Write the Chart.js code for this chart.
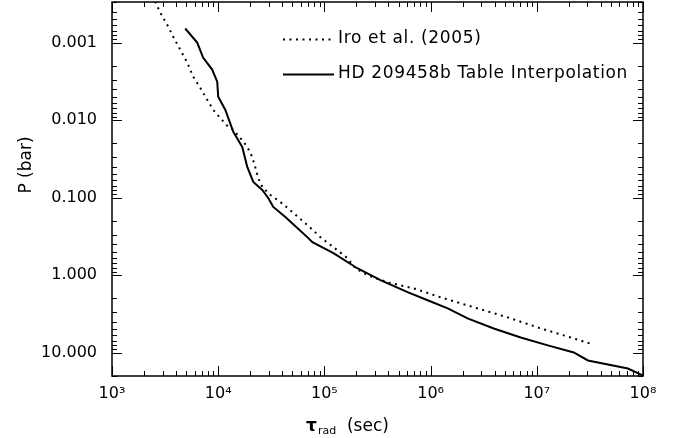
<!DOCTYPE html>
<html><head><meta charset="utf-8">
<script src="https://cdn.jsdelivr.net/npm/chart.js@4/dist/chart.umd.min.js"></script>
<style>html,body{margin:0;padding:0;background:#fff}#wrap{width:685px;height:438px}</style>
</head><body><div id="wrap"><canvas id="c" width="685" height="438"></canvas></div>
<script>
// ---- data ----
const iroTau = [2550, 2840, 3300, 3760, 4380, 5110, 5810, 6760, 7870, 8970, 10400, 12400, 13900, 16100, 18800, 20900, 22300, 23800, 26000, 31000, 38500, 51100, 69200, 91700, 121600, 164800, 196000, 254000, 393000, 692000, 1240000, 2550000, 5330000, 10900000, 22300000, 33700000];
const iroP = [0.000295, 0.000409, 0.000585, 0.000836, 0.00123, 0.00181, 0.00275, 0.00382, 0.00546, 0.00736, 0.00933, 0.0122, 0.0134, 0.0169, 0.0222, 0.0299, 0.0402, 0.0558, 0.0729, 0.0925, 0.114, 0.158, 0.226, 0.324, 0.436, 0.604, 0.815, 1.00, 1.24, 1.48, 1.93, 2.60, 3.51, 4.87, 6.55, 7.83];
const hdTau = [4890, 6340, 7210, 8770, 9790, 10000, 11650, 13870, 16840, 18780, 21400, 26000, 29600, 33000, 42900, 55600, 70600, 77100, 121600, 204000, 337000, 607000, 937000, 1450000, 2230000, 3930000, 7060000, 12700000, 22300000, 30300000, 72100000, 100000000];
const hdP = [0.000659, 0.00100, 0.00156, 0.00223, 0.00320, 0.00500, 0.00736, 0.0142, 0.0222, 0.0402, 0.0628, 0.0798, 0.101, 0.132, 0.178, 0.247, 0.333, 0.375, 0.521, 0.815, 1.16, 1.66, 2.11, 2.68, 3.61, 4.87, 6.36, 8.05, 9.93, 12.6, 16.0, 19.7];
const seriesLabels = ['Iro et al. (2005)', 'HD 209458b Table Interpolation'];
const xRange = [1e3, 1e8];
const yRange = [0.0003, 20];
const yTitle = 'P (bar)';
const xTitleSymbol = 'τ', xTitleSub = 'rad', xTitleRest = '  (sec)';

const FONT = 'DejaVu Sans';
const sup = {'0':'⁰','1':'¹','2':'²','3':'³','4':'⁴','5':'⁵','6':'⁶','7':'⁷','8':'⁸','9':'⁹','-':'⁻'};
function isDecade(v){ const l = Math.log10(v); return Math.abs(l - Math.round(l)) < 1e-6; }

const toPts = (xs, ys) => xs.map((x, i) => ({x, y: ys[i]}));

const framePlugin = {
  id: 'frame',
  afterDraw(chart) {
    const {ctx, chartArea: a, scales} = chart;
    ctx.save();
    ctx.strokeStyle = '#000';
    ctx.lineWidth = 1.5;
    ctx.strokeRect(a.left, a.top, a.right - a.left, a.bottom - a.top);
    ctx.lineWidth = 1;
    ctx.beginPath();
    const drawTicks = (scale, horiz) => {
      const lo = Math.floor(Math.log10(scale.min)), hi = Math.ceil(Math.log10(scale.max));
      for (let e = lo; e <= hi; e++) {
        for (let m = 1; m <= 9; m++) {
          const v = m * Math.pow(10, e);
          if (v < scale.min * 0.999 || v > scale.max * 1.001) continue;
          const len = m === 1 ? 10 : 5;
          const p = Math.round(scale.getPixelForValue(v)) + 0.5;
          if (horiz) {
            ctx.moveTo(p, a.bottom); ctx.lineTo(p, a.bottom - len);
            ctx.moveTo(p, a.top); ctx.lineTo(p, a.top + len);
          } else {
            ctx.moveTo(a.left, p); ctx.lineTo(a.left + len, p);
            ctx.moveTo(a.right, p); ctx.lineTo(a.right - len, p);
          }
        }
      }
    };
    drawTicks(scales.x, true);
    drawTicks(scales.y, false);
    ctx.stroke();

    // axis titles
    ctx.fillStyle = '#000';
    ctx.textBaseline = 'alphabetic';
    ctx.font = 'bold 17px "' + FONT + '"';
    const w1 = ctx.measureText(xTitleSymbol).width;
    ctx.font = '11px "' + FONT + '"';
    const w2 = ctx.measureText(xTitleSub).width;
    ctx.font = '17px "' + FONT + '"';
    const w3 = ctx.measureText(xTitleRest).width;
    let tx = 347 - (w1 + w2 + w3) / 2;
    const ty = 431;
    ctx.font = 'bold 17px "' + FONT + '"';
    ctx.fillText(xTitleSymbol, tx, ty); tx += w1 + 1;
    ctx.font = '11px "' + FONT + '"';
    ctx.fillText(xTitleSub, tx, ty + 3); tx += w2;
    ctx.font = '17px "' + FONT + '"';
    ctx.fillText(xTitleRest, tx, ty);
    ctx.save();
    ctx.translate(31, 165);
    ctx.rotate(-Math.PI / 2);
    ctx.textAlign = 'center';
    ctx.textBaseline = 'alphabetic';
    ctx.font = '17px "' + FONT + '"';
    ctx.fillText(yTitle, 0, 0);
    ctx.restore();

    // legend
    const ds = chart.data.datasets;
    const rows = [39, 74];
    ds.forEach((d, i) => {
      const y = rows[i];
      ctx.save();
      ctx.strokeStyle = d.borderColor;
      ctx.lineWidth = d.borderWidth;
      ctx.setLineDash(d.borderDash || []);
      ctx.beginPath();
      ctx.moveTo(283, y + 0.5); ctx.lineTo(334, y + 0.5);
      ctx.stroke();
      ctx.restore();
      ctx.save();
      ctx.font = '17px "' + FONT + '"';
      ctx.letterSpacing = '0.65px';
      ctx.textBaseline = 'middle';
      ctx.textAlign = 'left';
      ctx.fillText(d.label, 338, y);
      ctx.restore();
    });
    ctx.restore();
  }
};

const noPad = (s) => { s.paddingTop = 0; s.paddingBottom = 0; s.paddingLeft = 0; s.paddingRight = 0; };

new Chart(document.getElementById('c'), {
  type: 'line',
  data: {
    datasets: [
      { label: seriesLabels[0], data: toPts(iroTau, iroP), borderColor: '#000', borderWidth: 2,
        borderDash: [2, 4.5], pointRadius: 0, tension: 0, fill: false },
      { label: seriesLabels[1], data: toPts(hdTau, hdP), borderColor: '#000', borderWidth: 2,
        pointRadius: 0, tension: 0, fill: false }
    ]
  },
  options: {
    responsive: false,
    animation: false,
    devicePixelRatio: 1,
    layout: { padding: { top: 2, right: 42, left: 0, bottom: 0 } },
    plugins: { legend: { display: false }, tooltip: { enabled: false }, title: { display: false } },
    scales: {
      x: {
        type: 'logarithmic', min: xRange[0], max: xRange[1], position: 'bottom',
        grid: { display: false, drawTicks: false }, border: { display: false },
        ticks: {
          autoSkip: false, maxRotation: 0, minRotation: 0, padding: 8, color: '#000',
          font: { family: FONT, size: 16 },
          callback: (v) => isDecade(v) ? '10' + String(Math.round(Math.log10(v))).split('').map(c => sup[c]).join('') : ''
        },
        afterFit: (s) => { s.height = 62; noPad(s); }
      },
      y: {
        type: 'logarithmic', min: yRange[0], max: yRange[1], reverse: true, position: 'left',
        grid: { display: false, drawTicks: false }, border: { display: false },
        ticks: {
          autoSkip: false, padding: 15, color: '#000',
          font: { family: FONT, size: 16 },
          callback: (v) => isDecade(v) ? Number(v).toFixed(3) : ''
        },
        afterFit: (s) => { s.width = 112; noPad(s); }
      }
    }
  },
  plugins: [framePlugin]
});
</script>
</body></html>
